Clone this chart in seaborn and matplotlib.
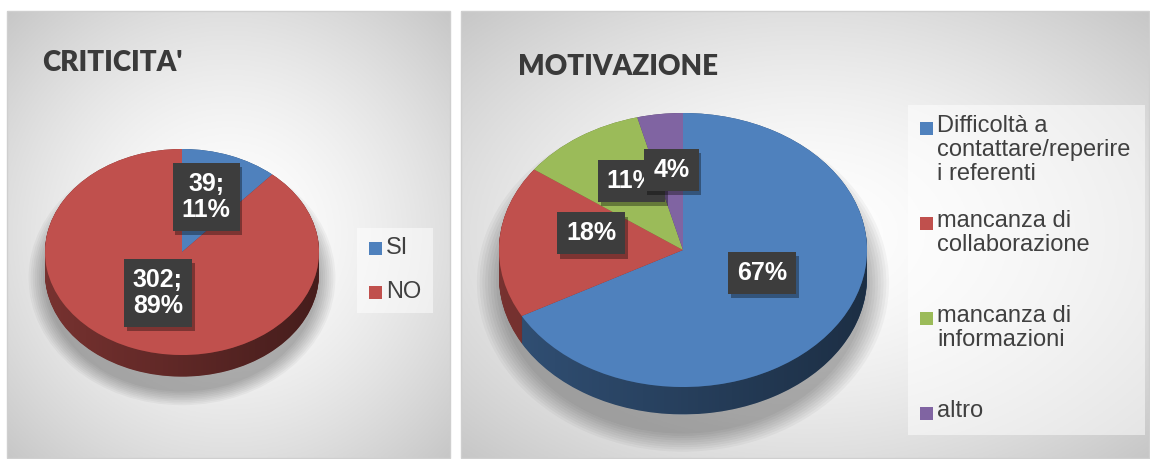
import numpy as np
import matplotlib.pyplot as plt
import matplotlib.patheffects as pe
from matplotlib.patches import Rectangle, Polygon, Ellipse
import seaborn as sns

sns.set_theme(style="white")
plt.rcParams['font.family'] = ['Liberation Sans', 'DejaVu Sans']

# --- data ---
crit_labels = ["SI", "NO"]
crit_values = [39, 302]
crit_pct = [11, 89]

mot_labels = ["Difficoltà a\ncontattare/reperire\ni referenti",
              "mancanza di\ncollaborazione",
              "mancanza di\ninformazioni",
              "altro"]
mot_pct = [67, 18, 11, 4]

crit_colors = sns.color_palette(["#4F81BD", "#C0504D"])
mot_colors = sns.color_palette(["#4F81BD", "#C0504D", "#9BBB59", "#8064A2"])

W, H = 1150, 459
fig = plt.figure(figsize=(W / 100, H / 100), dpi=100)
fig.patch.set_facecolor("white")
bg = fig.add_axes([0, 0, 1, 1])


def panel(x0, x1, y0, y1):
    xs = np.linspace(-1, 1, 300)
    ys = np.linspace(-1, 1, 200)
    X, Y = np.meshgrid(xs, ys)
    r = np.sqrt(X ** 2 + Y ** 2) / np.sqrt(2)
    v = 1 - 0.22 * r ** 1.6
    bg.imshow(np.dstack([v, v, v]), extent=(x0, x1, y1, y0), aspect='auto', zorder=0)
    bg.add_patch(Rectangle((x0, y0), x1 - x0, y1 - y0, fill=False, ec="#cfcfcf", lw=1, zorder=1))


panel(7, 450, 11, 458)
panel(461, 1149, 11, 458)
bg.set_xlim(0, W)
bg.set_ylim(H, 0)
bg.axis('off')


def pie3d(cx, cy, rx, ry, depth, lift, values, colors, texts):
    xl, yt, yb = 1.2, 1.2, 1.35 + depth
    left, width = cx - xl * rx, 2 * xl * rx
    top, bottom = cy - yt * ry, cy + yb * ry
    ax = fig.add_axes([left / W, (H - bottom) / H, width / W, (bottom - top) / H])
    ax.patch.set_alpha(0)

    # soft shadow
    for s in np.linspace(1.0, 1.12, 9):
        ax.add_patch(Ellipse((0, -depth - 0.04), 2 * s, (2 + depth) * s,
                             fc="black", alpha=0.035, lw=0, zorder=0))

    # extruded side
    side = [tuple(np.array(c) * 0.62) for c in colors]
    for off in np.linspace(depth, 0, 40):
        ws, _ = ax.pie(values, colors=side, startangle=90, counterclock=False,
                       center=(0, -off), wedgeprops=dict(lw=0))
        for w in ws:
            w.set_zorder(2)
    t = np.linspace(np.pi, 2 * np.pi, 120)
    pts = np.vstack([np.column_stack([np.cos(t), np.sin(t)]),
                     np.column_stack([np.cos(t[::-1]), np.sin(t[::-1]) - depth])])
    clip = Polygon(pts, closed=True, fc="none", ec="none", transform=ax.transData)
    ax.add_patch(clip)
    grad = np.zeros((1, 256, 4))
    grad[..., 3] = np.linspace(0.0, 0.42, 256)
    im = ax.imshow(grad, extent=(-1, 1, -1 - depth, 0), aspect='auto', zorder=3)
    im.set_clip_path(clip)

    # top face
    wedges, _ = ax.pie(values, colors=colors, startangle=90, counterclock=False,
                       wedgeprops=dict(lw=0))
    for w in wedges:
        w.set_zorder(4)

    for w, txt in zip(wedges, texts):
        ang = np.deg2rad((w.theta1 + w.theta2) / 2)
        t = ax.text(0.5 * np.cos(ang), 0.5 * np.sin(ang) + lift, txt, ha='center', va='center',
                    color="white", fontsize=18, fontweight='bold', linespacing=1.1,
                    bbox=dict(boxstyle="square,pad=0.36", fc="#3d3d3d", ec="none"), zorder=6)
        t.get_bbox_patch().set_path_effects(
            [pe.withSimplePatchShadow(offset=(2, -3), alpha=0.35, shadow_rgbFace="black")])

    ax.set_xlim(-xl, xl)
    ax.set_ylim(-yb, yt)
    ax.set_aspect('auto')
    ax.axis('off')
    return ax


crit_texts = [f"{v};\n{p}%" for v, p in zip(crit_values, crit_pct)]
mot_texts = [f"{p}%" for p in mot_pct]

pie3d(182, 252, 137, 103, 0.21, 0.07, crit_values, crit_colors, crit_texts)
pie3d(683, 250, 184, 137, 0.20, 0.09, mot_pct, mot_colors, mot_texts)

# titles
title_kw = dict(color="#3a3a3a", fontsize=20, fontweight='heavy', va='baseline', ha='left',
                family=['Lato', 'DejaVu Sans'])
bg.text(42, 71, "CRITICITA'", **title_kw)
bg.text(518, 75, "MOTIVAZIONE", **title_kw)

# legends
bg.add_patch(Rectangle((357, 228), 76, 85, fc="white", alpha=0.5, lw=0, zorder=2))
for i, (lab, c) in enumerate(zip(crit_labels, crit_colors)):
    y = 248 + i * 44
    bg.add_patch(Rectangle((369, y - 6.5), 13, 13, fc=c, lw=0, zorder=3))
    bg.text(386, y, lab, va='center', ha='left', fontsize=17, color="#404040", zorder=3)

bg.add_patch(Rectangle((908, 105), 237, 330, fc="white", alpha=0.5, lw=0, zorder=2))
for i, (lab, c) in enumerate(zip(mot_labels, mot_colors)):
    y = 128 + i * 95
    bg.add_patch(Rectangle((920, y - 6.5), 13, 13, fc=c, lw=0, zorder=3))
    bg.text(937, y - 13, lab, va='top', ha='left', fontsize=17, color="#404040",
            linespacing=1.12, zorder=3)

fig.savefig("out.png", dpi=100)
